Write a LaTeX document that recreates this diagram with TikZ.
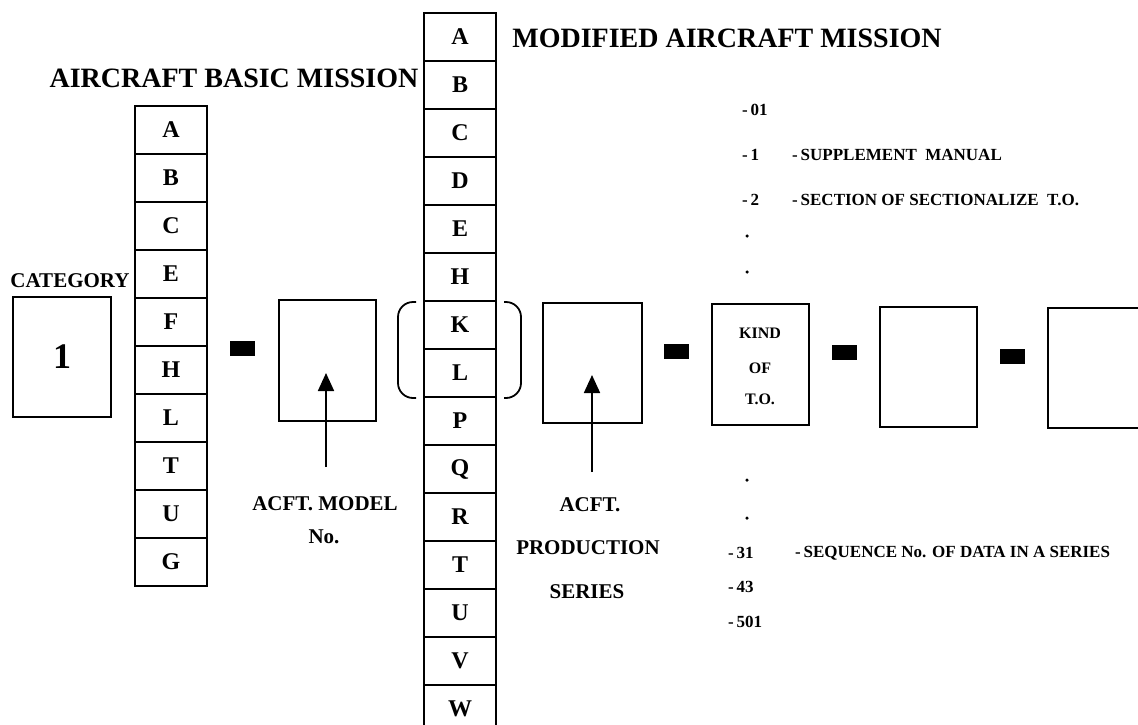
\documentclass[tikz,border=0pt]{standalone}
\usepackage{fontspec}
\setmainfont{Liberation Serif}
\usetikzlibrary{arrows.meta}
\newcommand\fsz[1]{\fontsize{#1}{#1}\selectfont\bfseries}
\tikzset{
  ln/.style={line width=1.8pt},
  cell/.style={draw, ln, minimum width=72pt, minimum height=48pt, inner sep=0pt, font=\fsz{24}},
  bigbox/.style={draw, ln, inner sep=0pt},
  sepbar/.style={fill=black, draw=none, minimum width=25pt, minimum height=15pt, inner sep=0pt},
  title/.style={font=\fsz{28}, inner sep=0pt},
  lbl/.style={font=\fsz{21}, inner sep=0pt},
  lst/.style={font=\fsz{17}, inner sep=0pt, anchor=west},
  arr/.style={line width=1.8pt, -{Triangle[width=16pt,length=18pt]}},
  dotm/.style={fill=black, circle, inner sep=0pt, minimum size=3.5pt}
}
\begin{document}
\begin{tikzpicture}[x=1pt,y=-1pt]
\useasboundingbox (0,0) rectangle (1138,724);
\clip (0,0) rectangle (1138,724);
% titles
\node[title] (t1) at (234,78) {AIRCRAFT BASIC MISSION};
\node[title] (t2) at (727,38) {MODIFIED AIRCRAFT MISSION};
% category
\node[lbl] (cat) at (70,281) {CATEGORY};
\node[bigbox, minimum width=98pt, minimum height=120pt, font=\fsz{36}] (c1) at (62,357) {1};
% left column
\foreach \l [count=\i from 0] in {A,B,C,E,F,H,L,T,U,G}
  \node[cell] (l\i) at (171,{130+48*\i}) {\l};
% middle column
\foreach \l [count=\i from 0] in {A,B,C,D,E,H,K,L,P,Q,R,T,U,V,W}
  \node[cell] (m\i) at (460,{37+48*\i}) {\l};
% separators
\node[sepbar] (d1) at (242.5,348.5) {};
\node[sepbar] (d2) at (676,351.5) {};
\node[sepbar] (d3) at (844.5,352.5) {};
\node[sepbar] (d4) at (1012.5,356) {};
% boxes
\node[bigbox, minimum width=97pt, minimum height=121pt] (b1) at (327.5,360.5) {};
\node[bigbox, minimum width=99pt, minimum height=120pt] (b2) at (592.5,363) {};
\node[bigbox, minimum width=97pt, minimum height=121pt] (b3) at (760.5,364.5) {};
\node[bigbox, minimum width=97pt, minimum height=120pt] (b4) at (928.5,367) {};
\node[bigbox, minimum width=97pt, minimum height=120pt] (b5) at (1096.5,368) {};
\node[font=\fsz{16}, inner sep=0pt] (k1) at (760,333) {KIND};
\node[font=\fsz{16}, inner sep=0pt] (k2) at (760,368) {OF};
\node[font=\fsz{16}, inner sep=0pt] (k3) at (760,399) {T.O.};
% brackets
\draw[ln, rounded corners=15pt] (416,302) -- (398,302) -- (398,398) -- (416,398);
\draw[ln, rounded corners=15pt] (504,302) -- (521,302) -- (521,398) -- (504,398);
% arrows
\coordinate (a1s) at (326,467);
\coordinate (a1t) at (326,373);
\coordinate (a2s) at (592,472);
\coordinate (a2t) at (592,375);
\draw[arr] (a1s) -- (a1t);
\draw[arr] (a2s) -- (a2t);
% labels
\node[lbl] (acm) at (325,504) {ACFT. MODEL};
\node[lbl] (no) at (324,537) {No.};
\node[lbl] (acp) at (590,505) {ACFT.};
\node[lbl] (prd) at (588,548) {PRODUCTION};
\node[lbl] (ser) at (587,592) {SERIES};
% right list top
\node[lst] (n01) at (742,110) {-\,01};
\node[lst] (n1) at (742,155) {-\,1};
\node[lst] (n2) at (742,200) {-\,2};
\node[lst] (s1) at (792,155) {-\,SUPPLEMENT\ \ MANUAL};
\node[lst] (s2) at (792,200) {-\,SECTION OF SECTIONALIZE\ \ T.O.};
\node[dotm] (p1) at (747,236) {};
\node[dotm] (p2) at (747,272) {};
% right list bottom
\node[dotm] (p3) at (747,480) {};
\node[dotm] (p4) at (747,518) {};
\node[lst] (n31) at (728,553) {-\,31};
\node[lst] (n43) at (728,587) {-\,43};
\node[lst] (n501) at (728,622) {-\,501};
\node[lst] (s3) at (795,553) {-\,SEQUENCE No. OF DATA IN A SERIES};
\end{tikzpicture}
\end{document}
